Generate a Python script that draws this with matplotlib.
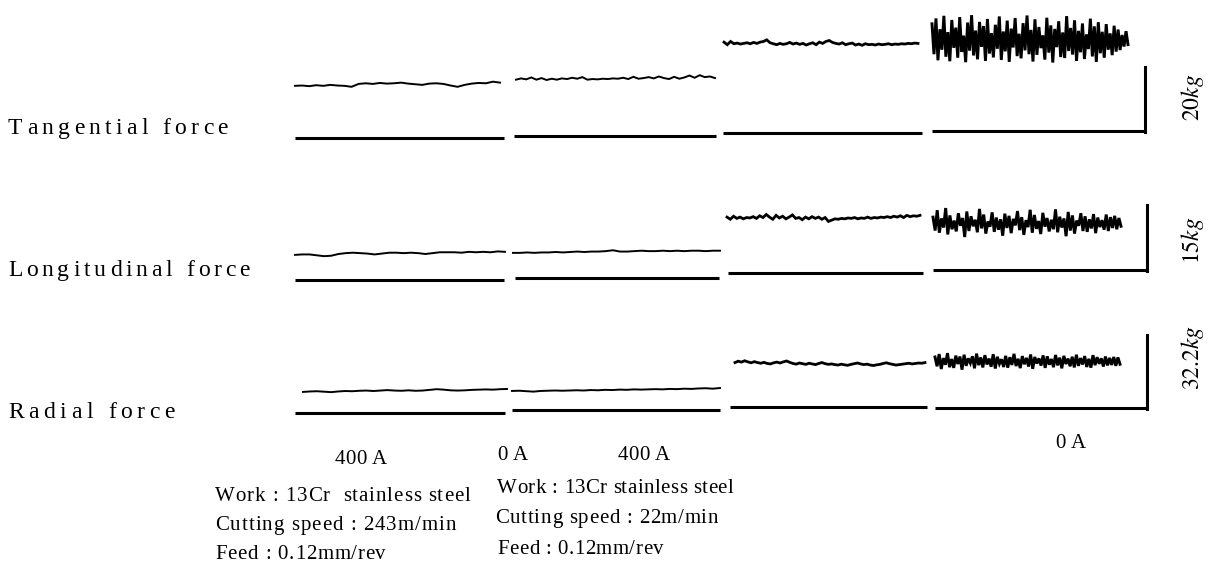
import matplotlib
matplotlib.use("Agg")
import matplotlib.pyplot as plt
import numpy as np

plt.rcParams["mathtext.fontset"] = "stix"
SERIF = "Liberation Serif"

# ---------------- data ----------------
row_names = ["Tangential force", "Longitudinal force", "Radial force"]
scale_kg = [20, 15, 32.2]
scale_labels = [r"$20\mathit{kg}$", r"$15\mathit{kg}$", r"$32.2\mathit{kg}$"]
current_labels = ["400 A", "0 A", "400 A", "0 A"]
cond_left = ["Work : 13Cr  stainless steel", "Cutting speed : 243m/min", "Feed : 0.12mm/rev"]
cond_right = ["Work : 13Cr stainless steel", "Cutting speed : 22m/min", "Feed : 0.12mm/rev"]

# force traces in kg (400A/243, 0A/243, 400A/22, 0A/22)
tan_1 = [16.3, 16.4, 16.2, 16.5, 16.3, 16.6, 16.4, 16.3, 16.0, 16.9, 17.1, 16.9, 17.2, 17.0, 17.1,
         17.3, 17.0, 16.8, 16.6, 17.0, 17.1, 16.9, 16.4, 16.0, 16.6, 17.0, 17.2, 17.1, 17.6, 17.3]
tan_2 = [17.6, 18.0, 17.7, 18.3, 17.6, 18.1, 17.5, 17.9, 17.6, 18.0, 17.8, 18.2, 17.9, 18.4, 17.6,
         17.8, 17.7, 17.9, 17.8, 18.0, 17.9, 18.2, 17.8, 18.5, 17.9, 18.1, 18.4, 18.0, 18.6, 18.1,
         17.8, 18.5, 17.9, 18.3, 18.9, 18.2, 19.0, 18.4, 18.6, 18.1]
tan_3 = [28.4, 27.6, 28.6, 27.9, 28.1, 27.8, 28.0, 28.2, 27.9, 28.3, 28.0, 28.4, 28.6, 29.1, 28.2,
         27.9, 27.6, 28.0, 27.7, 27.9, 28.3, 27.8, 28.1, 27.7, 28.0, 27.5, 27.9, 28.2, 27.6, 28.4,
         28.0, 28.6, 28.9, 28.3, 28.0, 27.8, 28.2, 27.6, 27.9, 28.1, 27.5, 27.8, 27.4, 27.9, 27.6,
         27.7, 27.5, 27.8, 27.6, 27.7, 27.9, 27.6, 27.8, 27.7, 27.9, 27.8, 28.0, 27.9, 28.1, 28.0]
tan_4 = [33.5, 24.0, 35.2, 22.1, 31.8, 25.4, 36.0, 23.2, 30.9, 21.8, 34.7, 26.0, 32.3, 22.9, 35.6,
         24.7, 29.8, 21.5, 33.9, 25.1, 36.2, 23.6, 31.4, 22.4, 34.1, 26.3, 32.8, 21.9, 35.0, 24.2,
         30.6, 23.0, 33.2, 25.7, 35.8, 22.2, 31.1, 24.9, 34.5, 21.6, 32.0, 26.1, 35.3, 23.4, 30.4,
         22.7, 33.7, 25.2, 36.1, 24.0, 31.6, 21.7, 34.9, 23.8, 32.5, 25.9, 29.9, 22.3, 35.4, 24.5,
         33.0, 21.4, 31.9, 26.2, 34.3, 23.1, 30.8, 22.8, 35.9, 25.0, 32.2, 23.9, 34.6, 21.9, 31.3,
         24.6, 33.6, 22.5, 30.2, 25.6, 35.1, 23.3, 32.7, 21.6, 34.0, 24.3, 31.0, 22.9, 33.4, 25.4,
         30.5, 23.7, 32.9, 24.8, 31.7, 25.3, 30.0, 26.4, 31.2, 27.0]

lon_1 = [5.8, 5.9, 5.9, 5.7, 5.5, 5.6, 6.0, 6.2, 6.3, 6.2, 6.1, 5.9, 6.1, 6.3, 6.3,
         6.2, 6.3, 6.2, 6.0, 6.2, 6.4, 6.4, 6.4, 6.3, 6.5, 6.4, 6.5, 6.4, 6.6, 6.5]
lon_2 = [5.8, 5.8, 5.9, 5.8, 5.9, 5.9, 6.0, 5.9, 6.0, 6.1, 6.0, 6.1, 6.1, 6.2, 6.4,
         6.1, 6.1, 6.2, 6.3, 6.2, 6.2, 6.3, 6.2, 6.3, 6.2, 6.3, 6.3, 6.2, 6.3, 6.3]
lon_3 = [12.9, 12.4, 13.1, 12.6, 12.9, 12.5, 12.8, 12.7, 13.0, 12.6, 13.2, 12.8, 13.5, 12.9, 12.4,
         13.3, 12.7, 13.1, 12.5, 12.9, 13.4, 12.6, 12.8, 12.3, 12.9, 12.5, 13.0, 12.6, 12.9, 12.4,
         12.8, 11.9, 12.2, 12.5, 12.4, 12.6, 12.5, 12.7, 12.6, 12.8, 12.5, 12.7, 12.6, 12.9, 12.6,
         12.8, 12.7, 12.9, 12.8, 13.0, 12.8, 13.1, 12.9, 13.2, 12.8, 13.3, 13.0, 13.2, 13.1, 13.3]
lon_4 = [12.2, 9.1, 13.8, 8.6, 11.9, 9.8, 14.3, 8.2, 12.6, 9.4, 11.4, 8.9, 13.1, 10.2, 12.0,
         7.6, 13.5, 9.0, 12.4, 10.1, 11.6, 8.7, 14.1, 9.6, 12.8, 8.4, 11.2, 10.0, 13.3, 8.8,
         12.1, 9.3, 11.7, 7.9, 13.0, 9.7, 12.5, 8.5, 11.8, 10.3, 13.6, 9.2, 12.2, 8.1, 11.5,
         9.9, 13.9, 8.6, 12.7, 9.5, 11.3, 8.3, 13.2, 10.0, 12.0, 8.9, 11.6, 9.4, 14.0, 8.7,
         12.3, 9.8, 11.9, 7.8, 13.4, 9.1, 12.6, 8.4, 11.4, 10.2, 13.1, 9.0, 12.4, 8.8, 11.7,
         9.6, 12.9, 8.5, 12.1, 9.9, 11.5, 9.3, 12.8, 9.0, 12.2, 9.7, 12.5, 9.4, 12.0, 10.1]

rad_1 = [9.3, 9.5, 9.6, 9.4, 9.2, 9.5, 9.7, 9.6, 9.8, 9.9, 9.7, 9.9, 10.1, 9.9, 9.8,
         10.0, 9.8, 9.9, 10.2, 10.5, 10.3, 10.0, 9.9, 10.0, 10.2, 10.3, 10.4, 10.3, 10.5, 10.6]
rad_2 = [8.4, 8.5, 8.3, 8.1, 8.4, 8.5, 8.6, 8.5, 8.6, 8.7, 8.6, 8.8, 8.7, 8.9, 8.8,
         9.0, 8.9, 9.1, 9.0, 9.1, 9.2, 9.1, 9.3, 9.2, 9.4, 9.3, 9.5, 9.6, 9.4, 9.7]
rad_3 = [19.6, 20.2, 19.8, 20.4, 19.9, 19.5, 20.0, 19.6, 19.3, 19.7, 19.2, 19.0, 19.5, 19.8, 19.4,
         19.9, 20.3, 19.7, 19.2, 18.9, 19.4, 19.1, 18.8, 19.3, 19.0, 18.7, 19.2, 19.6, 19.1, 18.8,
         19.0, 18.7, 18.5, 18.9, 18.6, 18.4, 18.8, 19.1, 19.4, 19.0, 18.7, 18.9, 18.5, 18.3, 18.6,
         18.8, 19.2, 19.5, 19.1, 18.8, 18.5, 18.7, 18.9, 19.1, 19.3, 19.0, 19.2, 19.4, 19.3, 19.6]
rad_4 = [22.5, 18.4, 23.8, 17.2, 22.0, 19.1, 24.2, 18.0, 21.6, 17.7, 23.1, 19.4, 22.7, 16.9, 23.5,
         18.6, 21.9, 19.8, 22.8, 17.5, 24.0, 18.9, 22.3, 17.9, 23.3, 19.2, 21.8, 18.2, 23.7, 17.4,
         22.6, 19.5, 21.5, 18.1, 23.0, 17.8, 22.4, 19.0, 23.9, 18.5, 21.7, 17.6, 22.9, 19.3, 22.1,
         18.3, 23.6, 17.3, 22.5, 19.6, 21.9, 18.7, 23.2, 17.7, 22.8, 19.1, 21.6, 18.0, 23.4, 18.8,
         22.2, 17.5, 23.0, 19.4, 21.8, 18.4, 22.6, 17.9, 23.5, 18.6, 22.0, 19.2, 22.9, 18.1, 21.7,
         17.8, 23.3, 18.9, 22.4, 19.5, 21.9, 18.3, 22.7, 18.8, 22.1, 19.0, 22.5, 18.6, 22.3, 19.3]

traces = [[tan_1, tan_2, tan_3, tan_4],
          [lon_1, lon_2, lon_3, lon_4],
          [rad_1, rad_2, rad_3, rad_4]]

# ---------------- layout (pixel space) ----------------
W, H = 1216, 568
bar_px = [64, 65, 73]
bar_x = [1145, 1147, 1147]
base_y = [[138, 136, 133, 131], [280, 278, 273, 270], [413, 410, 407, 408]]
base_x = [[(295, 504), (514, 716), (723, 922), (932, 1145)],
          [(295, 504), (515, 719), (728, 923), (933, 1147)],
          [(295, 505), (512, 720), (730, 927), (935, 1147)]]
sig_x = [[(295, 500), (516, 715), (724, 918), (932, 1128)],
         [(295, 505), (513, 720), (727, 920), (933, 1121)],
         [(303, 507), (512, 720), (735, 925), (935, 1120)]]
sig_lw = [1.4, 1.4, 2.0, 2.1]

fig = plt.figure(figsize=(W / 100, H / 100), dpi=100)
ax = fig.add_axes([0, 0, 1, 1])
ax.set_xlim(0, W)
ax.set_ylim(H, 0)
ax.axis("off")

for r in range(3):
    k = bar_px[r] / scale_kg[r]
    for s in range(4):
        bx0, bx1 = base_x[r][s]
        by = base_y[r][s]
        ax.plot([bx0, bx1], [by, by], color="black", lw=2.2, solid_capstyle="butt")
        vals = np.array(traces[r][s])
        sx0, sx1 = sig_x[r][s]
        xs = np.linspace(sx0, sx1, len(vals))
        ax.plot(xs, by - vals * k, color="black", lw=sig_lw[s], solid_joinstyle="miter")
    yb = base_y[r][3]
    ax.plot([bar_x[r], bar_x[r]], [yb + 1, yb - bar_px[r]], color="black", lw=2.2)

renderer = fig.canvas.get_renderer()
_wcache = {}


def _w(s, size):
    key = (s, size)
    if key not in _wcache:
        t = ax.text(0, 0, s, fontsize=size, family=SERIF)
        _wcache[key] = t.get_window_extent(renderer).width
        t.remove()
    return _wcache[key]


def advance(ch, size):
    if ch == " ":
        return size * 100 / 72 * 0.25
    return _w("n" + ch + "n", size) - _w("nn", size)


def spaced(s, x0, x1, y, size):
    ws = [advance(ch, size) for ch in s]
    gap = max((x1 - x0 - sum(ws)) / max(len(s) - 1, 1), 0.0)
    x = x0
    for ch, w in zip(s, ws):
        if ch != " ":
            ax.text(x, y, ch, fontsize=size, family=SERIF, ha="left", va="baseline")
        x += w + gap


# row labels
spaced(row_names[0], 8, 228, 134, 17)
spaced(row_names[1], 8, 250, 276, 17)
spaced(row_names[2], 8, 175, 418, 17)

# scale labels
for lab, yc in zip(scale_labels, [97, 240, 358]):
    ax.text(1192, yc, lab, fontsize=17, rotation=90, ha="center", va="center")

# current labels
cur_pos = [(335, 386, 464), (497, 524, 460), (618, 669, 460), (1055, 1082, 448)]
for lab, (x0, x1, y) in zip(current_labels, cur_pos):
    spaced(lab, x0, x1, y, 15)

# conditions
left_pos = [(215, 470, 501), (215, 456, 530), (215, 386, 559)]
right_pos = [(497, 733, 493), (495, 718, 523), (497, 663, 554)]
for txt, (x0, x1, y) in zip(cond_left, left_pos):
    spaced(txt, x0, x1, y, 15)
for txt, (x0, x1, y) in zip(cond_right, right_pos):
    spaced(txt, x0, x1, y, 15)

fig.savefig("out.png", dpi=100)
